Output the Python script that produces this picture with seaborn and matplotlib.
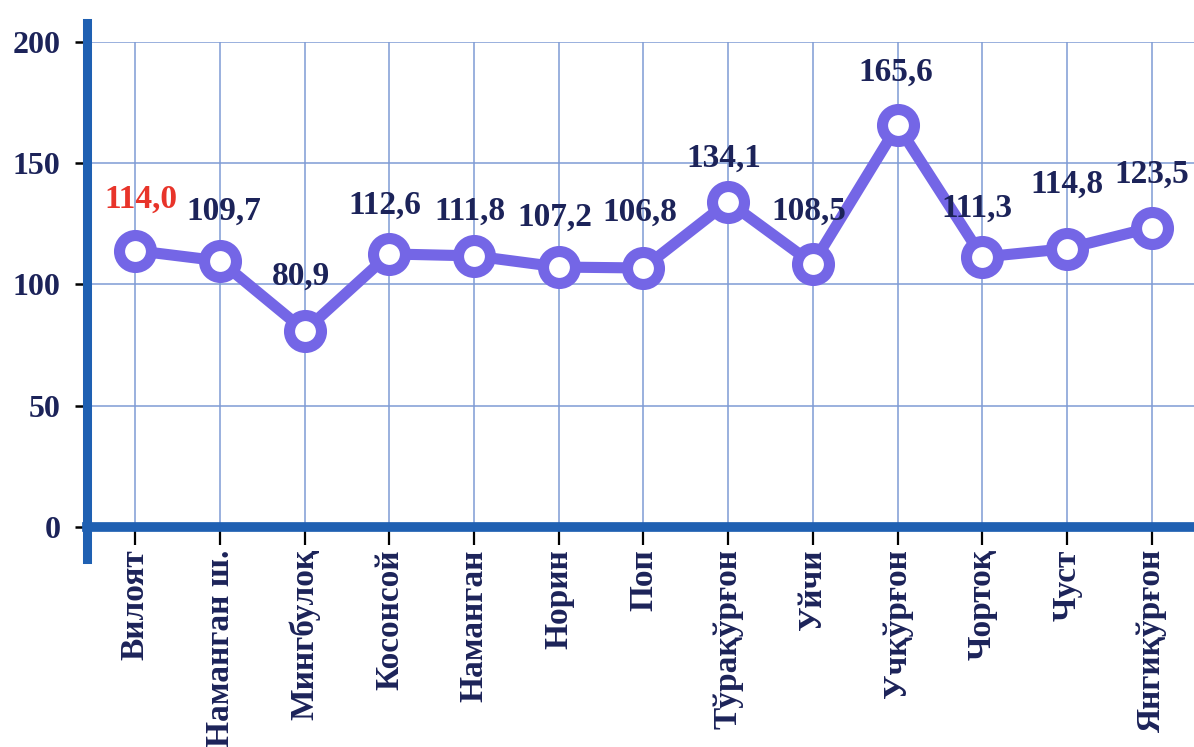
import matplotlib
matplotlib.use("Agg")
import matplotlib.pyplot as plt
import seaborn as sns
import pandas as pd

categories = ["Вилоят", "Наманган ш.", "Мингбулоқ", "Косонсой", "Наманган", "Норин",
              "Поп", "Тўрақўрғон", "Уйчи", "Учқўрғон", "Чортоқ", "Чуст", "Янгиқўрғон"]
values = [114.0, 109.7, 80.9, 112.6, 111.8, 107.2, 106.8, 134.1, 108.5, 165.6, 111.3, 114.8, 123.5]
value_labels = ["114,0", "109,7", "80,9", "112,6", "111,8", "107,2", "106,8",
                "134,1", "108,5", "165,6", "111,3", "114,8", "123,5"]
y_ticks = [0, 50, 100, 150, 200]

# label offsets (points) - styling only
label_dx = [4, 3, -3, -3, -3, -3, -3, -3, -3, -1, -4, 0, 0]
label_dy = [37, 36, 39, 35, 32, 36, 40, 31, 38, 38, 35, 46, 38]

sns.set_theme(style="white")
plt.rcParams['font.family'] = ['Liberation Serif', 'DejaVu Serif']

df = pd.DataFrame({"cat": categories, "val": values, "pos": range(len(categories))})

fig = plt.figure(figsize=(11.94, 7.47), dpi=100)
ax = fig.add_axes([0.0729, 0.2945, 0.9271, 0.6493])

line_col = "#7466e6"
spine_col = "#1f60b2"
grid_col = "#7e9bd4"
text_col = "#1c2359"

sns.lineplot(data=df, x="pos", y="val", ax=ax, color=line_col, linewidth=8,
             marker="o", markersize=23, markerfacecolor="white",
             markeredgecolor=line_col, markeredgewidth=8, sort=False, zorder=5)

ax.set_xlim(-0.57, 12.5)
ax.set_ylim(0, 200)
ax.set_xticks(range(len(categories)))
ax.set_xticklabels(categories, rotation=90, fontsize=24, fontweight="bold", color=text_col)
ax.set_yticks(y_ticks)
ax.set_yticklabels([str(t) for t in y_ticks], fontsize=23, fontweight="bold", color=text_col)
ax.set_xlabel("")
ax.set_ylabel("")

ax.grid(True, color=grid_col, linewidth=1.1)
ax.set_axisbelow(True)

for s in ["top", "right"]:
    ax.spines[s].set_visible(False)
ax.spines["left"].set_color(spine_col)
ax.spines["left"].set_linewidth(6.5)
ax.spines["left"].set_bounds(-13, 208)
ax.spines["bottom"].set_color(spine_col)
ax.spines["bottom"].set_linewidth(7)
ax.spines["bottom"].set_zorder(6)

ax.tick_params(axis="x", direction="out", length=13, width=1.6, color="black", pad=3, bottom=True)
ax.tick_params(axis="y", direction="out", length=9, width=1.8, color="black", pad=10, left=True)

for i, (v, lab) in enumerate(zip(values, value_labels)):
    ax.annotate(lab, (i, v), xytext=(label_dx[i], label_dy[i]), textcoords="offset points",
                ha="center", va="center", fontsize=24, fontweight="bold",
                color="#e8342a" if i == 0 else text_col, zorder=7)

fig.savefig("out.png", dpi=100, facecolor="white")
